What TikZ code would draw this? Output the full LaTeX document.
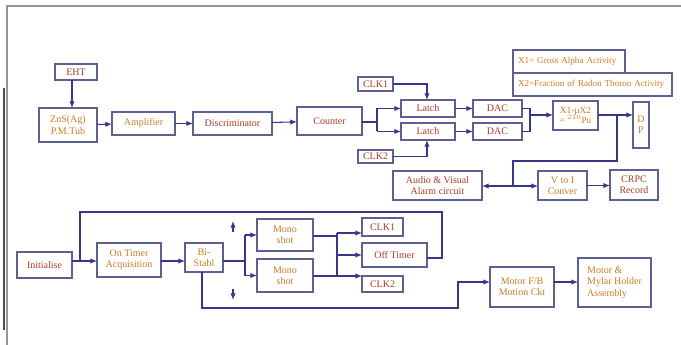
\documentclass[tikz,border=0pt]{standalone}
\usepackage{fontspec}
\setmainfont{Liberation Serif}
\usetikzlibrary{arrows.meta}
\definecolor{linec}{RGB}{55,55,135}
\definecolor{boxc}{RGB}{95,95,145}
\definecolor{ora}{RGB}{205,125,35}
\definecolor{dred}{RGB}{170,60,40}
\definecolor{framec}{RGB}{150,150,150}
\newcommand\blk[7]{\node[box,#1,minimum width={(#5-#3)*0.75pt},minimum height={(#6-#4)*0.75pt}] (#2) at ({(#3+#5)/2},{(#4+#6)/2}) {#7};}
\begin{document}
\begin{tikzpicture}[x=0.75pt,y=-0.75pt,
  box/.style={draw=boxc,line width=0.8pt,inner sep=0pt,outer sep=0pt,align=center,
    font=\fontsize{7.5}{8.5}\selectfont},
  small/.style={font=\fontsize{6.8}{7.8}\selectfont},
  wire/.style={draw=linec,line width=0.8pt},
  arr/.style={wire,-{Latex[length=5pt,width=4pt]}}]
\useasboundingbox (0,0) rectangle (681,345);
\fill[white] (0,0) rectangle (681,345);
% frame
\draw[framec,line width=1pt] (6,6) -- (681,6);
\draw[framec,line width=1pt] (7,6) -- (7,345);
\draw[black!70,line width=2pt] (4,88) -- (4,330);
% top chain
\blk{text=dred}{eht}{55}{64}{97}{80}{EHT}
\blk{text=ora}{zns}{39}{108}{97}{142}{ZnS(Ag)\\P.M.Tub}
\blk{text=ora}{amp}{112}{112}{175}{135}{Amplifier}
\blk{text=dred}{disc}{193}{112}{272}{135}{Discriminator}
\blk{text=dred}{cnt}{297}{107}{362}{135}{Counter}
\blk{text=dred}{clka}{358}{77}{393}{91}{CLK1}
\blk{text=dred}{clkb}{358}{150}{393}{163}{CLK2}
\blk{text=dred}{lta}{401}{100}{455}{117}{Latch}
\blk{text=dred}{ltb}{401}{123}{455}{140}{Latch}
\blk{text=dred}{daca}{473}{100}{522}{117}{DAC}
\blk{text=dred}{dacb}{473}{123}{522}{140}{DAC}
\blk{text=ora,small,align=left,text width={102*0.75pt}}{xa}{513}{50}{625}{73}{X1= Gross Alpha Activity}
\blk{text=ora,small,align=left,text width={149*0.75pt}}{xb}{513}{73}{672}{96}{X2=Fraction of Radon Thoron Activity}
\blk{text=ora,font=\fontsize{7}{8}\selectfont}{calc}{553}{101}{598}{130}{X1-µX2\\= $^{210}$Pu}
\blk{text=ora}{dp}{633}{102}{649}{148}{D\\P}
\blk{text=dred}{alarm}{393}{171}{482}{200}{Audio \& Visual\\Alarm circuit}
\blk{text=ora}{vtoi}{538}{171}{587}{200}{V to I\\Conver}
\blk{text=dred}{crpc}{610}{170}{658}{200}{CRPC\\Record}
% bottom part
\blk{text=dred}{init}{17}{252}{72}{278}{Initialise}
\blk{text=ora}{ontm}{97}{243}{161}{277}{On Timer\\Acquisition}
\blk{text=ora}{bist}{185}{243}{223}{272}{Bi-\\Stabl}
\blk{text=ora}{mona}{257}{219}{313}{251}{Mono\\shot}
\blk{text=ora}{monb}{257}{259}{313}{292}{Mono\\shot}
\blk{text=dred}{clkc}{362}{218}{403}{236}{CLK1}
\blk{text=dred}{offt}{362}{243}{427}{267}{Off Timer}
\blk{text=dred}{clkd}{362}{276}{403}{292}{CLK2}
\blk{text=ora}{mfb}{490}{267}{554}{307}{Motor F/B\\Motion Ckt}
\blk{text=ora,align=left}{mylar}{578}{258}{651}{307}{Motor \&\\Mylar Holder\\Assembly}
% coordinates
\coordinate (ea) at (72,0);
\coordinate (cs) at (377,122);
\coordinate (dm) at (530,115);
\coordinate (br) at (617,115);
\coordinate (ab) at (513,186);
\coordinate (ij) at (80,261);
\coordinate (bs) at (245,261);
\coordinate (mv) at (337,236);
\coordinate (upa) at (233,232);
\coordinate (upb) at (233,221);
\coordinate (dna) at (233,289);
\coordinate (dnb) at (233,300);
% top wires
\draw[arr] (eht.south -| ea) -- (zns.north -| ea);
\draw[arr] (zns) -- (amp);
\draw[arr] (amp) -- (disc);
\draw[arr] (disc) -- (cnt);
\draw[wire] (cnt.east |- cs) -- (cs);
\draw[arr] (cs |- lta) -- (lta);
\draw[arr] (cs |- ltb) -- (ltb);
\draw[wire] (cs |- lta) -- (cs |- ltb);
\draw[arr] (clka.east) -| (427,100);
\draw[arr] (clkb.east) -| (427,140);
\draw[arr] (lta) -- (daca);
\draw[arr] (ltb) -- (dacb);
\draw[wire] (daca.east) -| (dm);
\draw[wire] (dacb.east) -| (dm);
\draw[arr] (dm) -- (calc.west |- dm);
\draw[arr] (calc.east |- br) -- (dp.west |- br);
\draw[wire] (br) |- (ab |- 0,161) -- (ab);
\draw[arr] (ab) -- (alarm.east |- ab);
\draw[arr] (ab) -- (vtoi.west |- ab);
\draw[arr] (vtoi) -- (crpc.west |- vtoi);
% bottom wires
\draw[arr] (init.east |- ij) -- (ontm.west |- ij);
\draw[wire] (offt.east |- 0,258) -| (442,212) -| (ij);
\draw[arr] (ontm.east |- ij) -- (bist.west |- ij);
\draw[wire] (bist.east |- bs) -- (bs);
\draw[wire] (bs |- mona) -- (bs |- monb);
\draw[arr] (bs |- mona) -- (mona);
\draw[arr] (bs |- monb) -- (monb);
\draw[wire] (mona.east |- mv) -- (mv);
\draw[wire] (monb.east |- 0,276) -- (mv |- 0,276);
\draw[wire] (337,233) -- (337,276);
\draw[arr] (337,233) -- (clkc.west |- 0,233);
\draw[arr] (337,255) -- (offt.west |- 0,255);
\draw[arr] (337,276) -- (clkd.west |- 0,276);
\draw[arr] (202,272) |- (458,308) |- (mfb.west |- 0,282);
\draw[arr] (mfb.east |- 0,282) -- (mylar.west |- 0,282);
\draw[arr] (upa) -- (upb);
\draw[arr] (dna) -- (dnb);
\end{tikzpicture}
\end{document}
